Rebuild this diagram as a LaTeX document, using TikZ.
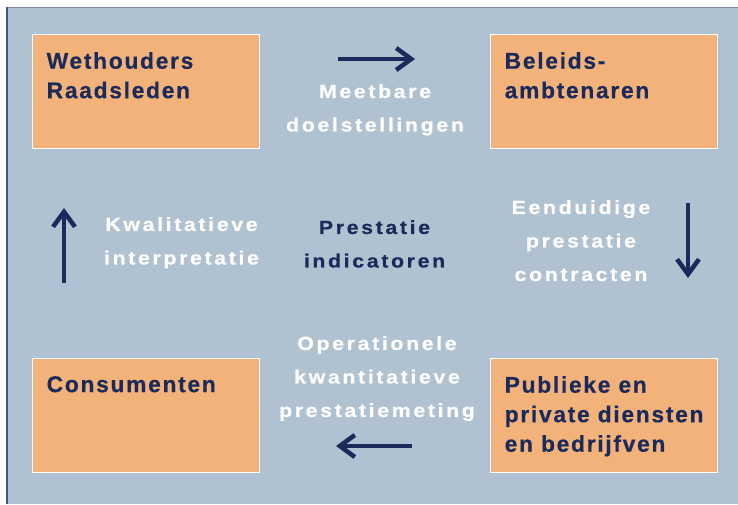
\documentclass[tikz,border=0pt]{standalone}
\usepackage{fontspec}
\setmainfont{Liberation Sans}
\newfontfamily\boxfont{Liberation Sans}[LetterSpace=7.5, FakeBold=0.4]
\newfontfamily\flowfont{Liberation Sans}[FakeStretch=1.12, LetterSpace=14, FakeBold=0.5]
\usetikzlibrary{arrows.meta}
\definecolor{panel}{HTML}{B0C1D2}
\definecolor{oranje}{HTML}{F4B27B}
\definecolor{navy}{HTML}{1A2A5A}
\begin{document}
\begin{tikzpicture}[x=1pt, y=-1pt, line join=round,
		actor/.style={draw=white, line width=1pt, fill=oranje, minimum width=227pt, minimum height=114pt, inner sep=0pt},
		actortext/.style={anchor=north west, inner sep=0pt, align=left, text=navy, font=\boxfont\bfseries\fontsize{22.8}{29.5}\selectfont},
		flowtext/.style={anchor=north, inner sep=0pt, align=center, text=#1, font=\flowfont\bfseries\fontsize{19}{33.5}\selectfont},
		flow/.style={navy, line width=4.5pt, -{Straight Barb[length=15pt,width=22pt]}}]
			\useasboundingbox (0,0) rectangle (738,504);
			\fill[white] (0,0) rectangle (738,504);
			\fill[panel] (7,7) rectangle (738,504);
			\draw[navy!55, line width=1pt] (7,7)--(738,7);
			\draw[navy!80, line width=1.4pt] (7,504)--(7,7);
			% vier partijen
			\node[actor] (weth) at (145.5,91.5) {};
			\node[actor] (bel)  at (603.5,91.5) {};
			\node[actor] (cons) at (145.5,415.5) {};
			\node[actor] (publ) at (603.5,415.5) {};
			\node[actortext] (wethtxt) at ([shift={(15pt,-18pt)}]weth.north west) {Wethouders\\Raadsleden};
			\node[actortext] (beltxt)  at ([shift={(15pt,-18pt)}]bel.north west)  {Beleids-\\ambtenaren};
			\node[actortext] (constxt) at ([shift={(15pt,-18pt)}]cons.north west) {Consumenten};
			\node[actortext] (publtxt) at ([shift={(15pt,-18pt)}]publ.north west) {Publieke en\\private diensten\\en bedrijfven};
			% stromen
			\node[flowtext=white] (meet) at (375,84)    {Meetbare\\doelstellingen};
			\node[flowtext=white] (eend) at (581,200)   {Eenduidige\\prestatie\\contracten};
			\node[flowtext=white] (oper) at (377,336)   {Operationele\\kwantitatieve\\prestatiemeting};
			\node[flowtext=white] (kwal) at (181.5,217) {Kwalitatieve\\interpretatie};
			\node[flowtext=navy]  (prest) at (374.5,220) {Prestatie\\indicatoren};
			% pijlen
			\coordinate (a1) at (338,59);  \coordinate (b1) at (415,59);
			\coordinate (a2) at (688,203); \coordinate (b2) at (688,278);
			\coordinate (a3) at (412,446); \coordinate (b3) at (336,446);
			\coordinate (a4) at (64,283);  \coordinate (b4) at (64,208);
			\foreach \i in {1,...,4} \draw[flow] (a\i)--(b\i);
\end{tikzpicture}
\end{document}
